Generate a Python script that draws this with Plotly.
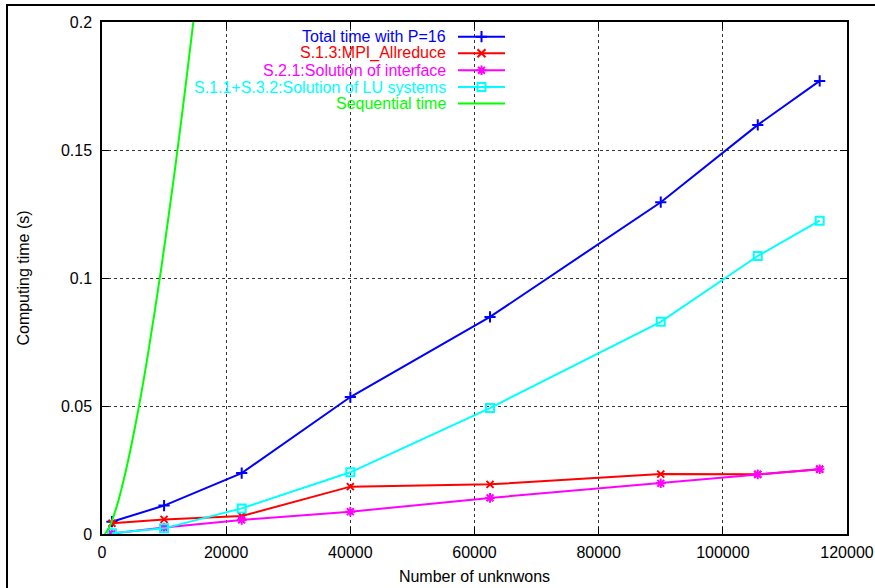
import plotly.graph_objects as go

# ---- data ----
unknowns = [1600, 10000, 22500, 40000, 62500, 90000, 105625, 115600]
total_p16 = [0.0048, 0.0111, 0.0238, 0.0535, 0.0848, 0.1296, 0.1598, 0.1770]
mpi_allreduce = [0.0042, 0.0057, 0.0070, 0.0185, 0.0194, 0.0234, 0.0233, 0.0253]
interface_sol = [0.0002, 0.0025, 0.0055, 0.0087, 0.0141, 0.0198, 0.0233, 0.0253]
lu_systems = [0.0003, 0.0022, 0.0100, 0.0241, 0.0492, 0.0829, 0.1086, 0.1224]

seq_unknowns = [450, 1200, 2400, 3200, 4240, 5960, 7300, 9500, 11400, 12190, 13450, 14710]
seq_time = [0.0, 0.0027, 0.0110, 0.0182, 0.0290, 0.0500, 0.0687, 0.1031, 0.1361, 0.1506, 0.1748, 0.2000]

series_names = [
    "Total time with P=16",
    "S.1.3:MPI_Allreduce",
    "S.2.1:Solution of interface",
    "S.1.1+S.3.2:Solution of LU systems",
    "Sequential time",
]

x_ticks = [0, 20000, 40000, 60000, 80000, 100000, 120000]
y_ticks = [0, 0.05, 0.1, 0.15, 0.2]

# ---- style ----
BLUE, RED, MAG, CYAN, GREEN = "#0000ff", "#ff0000", "#ff00ff", "#00ffff", "#00ff00"
FONT = "Liberation Sans, Arial, sans-serif"
FS = 16

W, H = 875, 588
L, R, T, B = 102, 28, 22, 54

fig = go.Figure()

styles = [
    (total_p16, BLUE, "cross-thin", 8),
    (mpi_allreduce, RED, "x-thin", 7),
    (interface_sol, MAG, "asterisk", 8),
    (lu_systems, CYAN, "square-open", 8),
]
for ys, col, sym, sz in styles:
    fig.add_trace(go.Scatter(
        x=unknowns, y=ys, mode="lines+markers",
        line=dict(color=col, width=2),
        marker=dict(symbol=sym, size=sz, color=col,
                    line=dict(color=col, width=2)),
        showlegend=False, cliponaxis=True,
    ))

fig.add_trace(go.Scatter(
    x=seq_unknowns, y=seq_time, mode="lines",
    line=dict(color=GREEN, width=2, shape="spline", smoothing=0.8),
    showlegend=False,
))

# ---- gnuplot-style key (text right-aligned, sample on the right) ----
def px_x(p):
    return (p - L) / (W - L - R)

def px_y(p):
    return (H - B - p) / (H - T - B)

key_rows = [36.7, 53.3, 70.3, 87.0, 103.5]
key_cols = [BLUE, RED, MAG, CYAN, GREEN]
key_syms = ["cross-thin", "x-thin", "asterisk", "square-open", None]
key_text_right = 448
key_x0, key_x1 = 458, 505

for name, col, sym, ry in zip(series_names, key_cols, key_syms, key_rows):
    fig.add_annotation(
        x=px_x(key_text_right), y=px_y(ry), xref="paper", yref="paper",
        text=name, showarrow=False, xanchor="right", yanchor="middle",
        font=dict(family=FONT, size=FS, color=col),
    )
    fig.add_trace(go.Scatter(
        x=[px_x(key_x0), px_x(key_x1)], y=[px_y(ry), px_y(ry)],
        mode="lines", line=dict(color=col, width=2),
        xaxis="x2", yaxis="y2", showlegend=False, hoverinfo="skip",
    ))
    if sym:
        fig.add_trace(go.Scatter(
            x=[px_x((key_x0 + key_x1) / 2)], y=[px_y(ry)], mode="markers",
            marker=dict(symbol=sym, size=8, color=col, line=dict(color=col, width=2)),
            xaxis="x2", yaxis="y2", showlegend=False, hoverinfo="skip",
        ))

# outer frame of the picture
fig.add_shape(type="rect", xref="paper", yref="paper",
              x0=px_x(7), x1=px_x(900), y0=px_y(5), y1=px_y(620),
              line=dict(color="black", width=2), layer="above")

axis_common = dict(
    showline=True, linecolor="black", linewidth=1.5, mirror="allticks",
    ticks="inside", ticklen=7, tickwidth=1, tickcolor="black",
    showgrid=True, gridcolor="#333333", gridwidth=1, griddash="dot",
    zeroline=False, automargin=False,
    tickfont=dict(family=FONT, size=FS, color="black"),
)

fig.update_layout(
    width=W, height=H,
    margin=dict(l=L, r=R, t=T, b=B, pad=0, autoexpand=False),
    paper_bgcolor="white", plot_bgcolor="white",
    font=dict(family=FONT, size=FS, color="black"),
    xaxis=dict(range=[0, 120000], tickvals=x_ticks, tickformat="d",
               ticklabelstandoff=3,
               title=dict(text="Number of unknwons", standoff=11,
                          font=dict(family=FONT, size=FS)),
               **axis_common),
    yaxis=dict(range=[0, 0.2], tickvals=y_ticks, ticklabelstandoff=5,
               title=dict(text="Computing time (s)", standoff=27,
                          font=dict(family=FONT, size=FS)),
               **axis_common),
    xaxis2=dict(range=[0, 1], overlaying="x", visible=False, fixedrange=True),
    yaxis2=dict(range=[0, 1], overlaying="y", visible=False, fixedrange=True),
    showlegend=False,
)

fig.write_html("out.html", config={"displayModeBar": False},
               post_script="document.body.style.margin='0';document.body.style.overflow='hidden';")
